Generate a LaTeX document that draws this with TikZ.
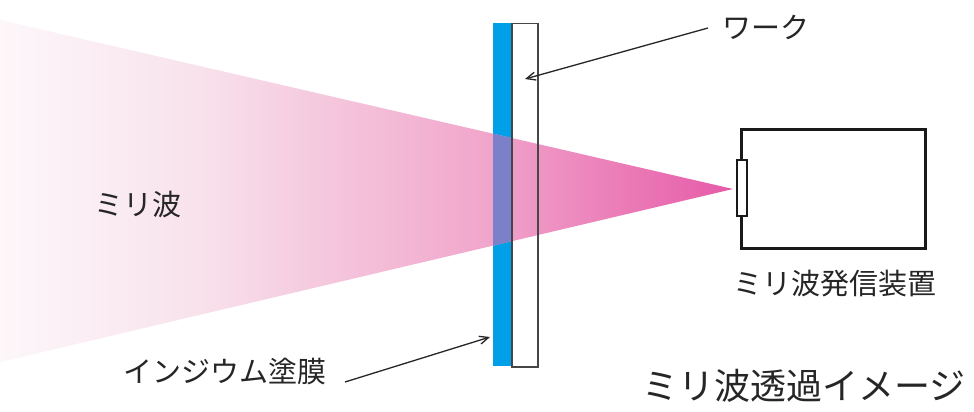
\documentclass[tikz,border=0pt]{standalone}
\usepackage{fontspec}
\setmainfont{Noto Sans CJK JP}
\usetikzlibrary{arrows.meta}
\definecolor{blueS}{RGB}{0,160,233}
\definecolor{purpS}{RGB}{124,128,200}
\definecolor{edgeG}{RGB}{70,70,70}
\pgfdeclarehorizontalshading{beamshade}{100bp}{%
  rgb(0bp)=(0.992,0.969,0.980);
  rgb(25bp)=(0.992,0.969,0.980);
  rgb(38.5bp)=(0.973,0.886,0.925);
  rgb(57.5bp)=(0.945,0.659,0.800);
  rgb(75bp)=(0.902,0.353,0.659);
  rgb(100bp)=(0.902,0.353,0.659)}
\tikzset{
  lbl/.style={inner sep=0pt, text=black!85, font=\fontsize{29pt}{31pt}\selectfont},
  ttl/.style={inner sep=0pt, text=black!85, font=\fontsize{36pt}{38pt}\selectfont},
  lead/.style={line width=1.3pt, draw=black!85, -{Straight Barb[length=9pt,width=8pt,line width=1.3pt]}},
  devbox/.style={draw=black!90, line width=3pt, fill=white},
}
\begin{document}
\begin{tikzpicture}[x=1pt,y=-1pt]
\useasboundingbox (0,0) rectangle (974,412);
\fill[white] (0,0) rectangle (974,412);
% strip
\fill[blueS] (493,23) rectangle (511,366);
% beam
\shade[shading=beamshade] (0,20) -- (733,189) -- (0,362) -- cycle;
\begin{scope}
  \clip (0,20) -- (733,189) -- (0,362) -- cycle;
  \fill[purpS] (493,23) rectangle (511,366);
\end{scope}
\node[draw=edgeG, line width=1.5pt, minimum width=26pt, minimum height=343pt, inner sep=0pt, anchor=north west] (work) at (511,23) {};
% device
\node[devbox, minimum width=184pt, minimum height=119pt, inner sep=0pt, anchor=north west] (dev) at (740,128) {};
\node[devbox, line width=2.5pt, minimum width=10pt, minimum height=56pt, inner sep=0pt] (ant) at (742,188) {};
% labels
\node[lbl] (wl) at (766,27) {ワーク};
\node[lbl] (ml) at (138,204) {ミリ波};
\node[lbl] (dl) at (835,284) {ミリ波発信装置};
\node[lbl] (il) at (225,372) {インジウム塗膜};
\node[ttl] (tl) at (804,386) {ミリ波透過イメージ};
% leaders
\coordinate (ws) at (708,28);
\coordinate (wt) at (525,79);
\coordinate (is) at (345,382);
\coordinate (it) at (490,337);
\draw[lead] (ws) -- (wt);
\draw[lead] (is) -- (it);
\end{tikzpicture}
\end{document}
